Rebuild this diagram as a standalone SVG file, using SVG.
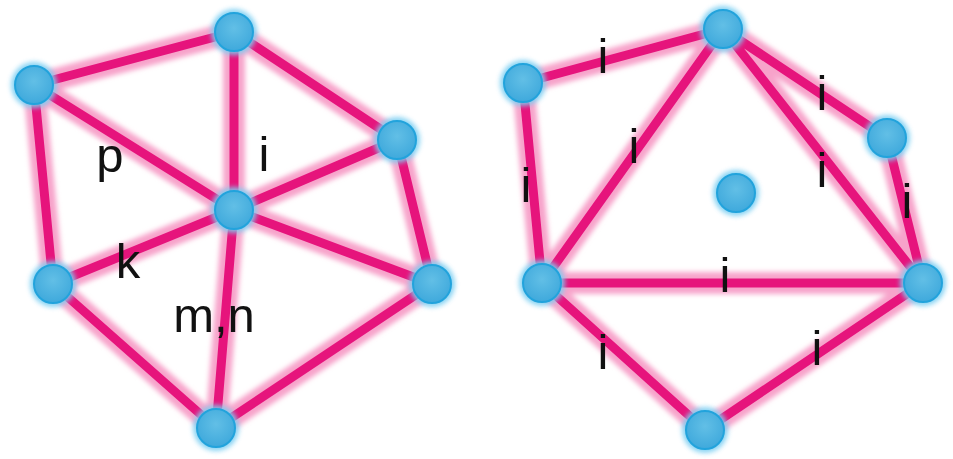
<svg xmlns="http://www.w3.org/2000/svg" width="953" height="459" viewBox="0 0 953 459">
<style>
.glow{stroke:#f7a3ca;stroke-width:22;stroke-linecap:round;fill:none}
.edge{stroke:#e6147c;stroke-width:9;stroke-linecap:round;fill:none}
.halo{fill:#7ccff2;opacity:0.9}
.node{fill:url(#ng);stroke:#22a3dc;stroke-width:2}
.lbl{font-family:"Liberation Sans",Arial,sans-serif;font-size:49px;fill:#111;text-anchor:middle}
</style>
<defs>
<filter id="blur" x="-20%" y="-20%" width="140%" height="140%"><feGaussianBlur stdDeviation="2.5"/></filter>
<filter id="nblur" x="-50%" y="-50%" width="200%" height="200%"><feGaussianBlur stdDeviation="2.5"/></filter>
<radialGradient id="ng" cx="50%" cy="40%" r="60%">
<stop offset="0" stop-color="#62bfe6"/>
<stop offset="1" stop-color="#3fa9dc"/>
</radialGradient>
</defs>
<rect width="953" height="459" fill="#ffffff"/>
<g id="connectors">
<g filter="url(#blur)">
<path class="glow" d="M234 32L34 85M234 32L397 140M234 32L234 210M34 85L234 210M34 85L53 284M397 140L234 210M397 140L432 284M234 210L53 284M234 210L432 284M234 210L216 428M53 284L216 428M432 284L216 428"/>
<path class="glow" d="M723 29L523 83M723 29L542 283M723 29L887 138M723 29L923 283M887 138L923 283M523 83L542 283M542 283L923 283M542 283L705 430M705 430L923 283"/>
</g>
<path class="edge" d="M234 32L34 85M234 32L397 140M234 32L234 210M34 85L234 210M34 85L53 284M397 140L234 210M397 140L432 284M234 210L53 284M234 210L432 284M234 210L216 428M53 284L216 428M432 284L216 428"/>
<path class="edge" d="M723 29L523 83M723 29L542 283M723 29L887 138M723 29L923 283M887 138L923 283M523 83L542 283M542 283L923 283M542 283L705 430M705 430L923 283"/>
</g>
<g id="labels">
<text class="lbl" x="110" y="172">p</text>
<text class="lbl" x="264" y="171">i</text>
<text class="lbl" x="128" y="278">k</text>
<text class="lbl" x="214" y="332">m,n</text>
<text class="lbl" x="603" y="73">i</text>
<text class="lbl" x="634" y="163">i</text>
<text class="lbl" x="822" y="110">i</text>
<text class="lbl" x="822" y="187">i</text>
<text class="lbl" x="907" y="218">i</text>
<text class="lbl" x="526" y="202">i</text>
<text class="lbl" x="725" y="292">i</text>
<text class="lbl" x="603" y="369">i</text>
<text class="lbl" x="817" y="365">i</text>
</g>
<g id="nA"><circle class="halo" cx="234" cy="32" r="23" filter="url(#nblur)"/><circle class="node" cx="234" cy="32" r="19"/></g>
<g id="nB"><circle class="halo" cx="34" cy="85" r="23" filter="url(#nblur)"/><circle class="node" cx="34" cy="85" r="19"/></g>
<g id="nC"><circle class="halo" cx="397" cy="140" r="23" filter="url(#nblur)"/><circle class="node" cx="397" cy="140" r="19"/></g>
<g id="nD"><circle class="halo" cx="234" cy="210" r="23" filter="url(#nblur)"/><circle class="node" cx="234" cy="210" r="19"/></g>
<g id="nE"><circle class="halo" cx="53" cy="284" r="23" filter="url(#nblur)"/><circle class="node" cx="53" cy="284" r="19"/></g>
<g id="nF"><circle class="halo" cx="432" cy="284" r="23" filter="url(#nblur)"/><circle class="node" cx="432" cy="284" r="19"/></g>
<g id="nG"><circle class="halo" cx="216" cy="428" r="23" filter="url(#nblur)"/><circle class="node" cx="216" cy="428" r="19"/></g>
<g id="nH"><circle class="halo" cx="723" cy="29" r="23" filter="url(#nblur)"/><circle class="node" cx="723" cy="29" r="19"/></g>
<g id="nI"><circle class="halo" cx="523" cy="83" r="23" filter="url(#nblur)"/><circle class="node" cx="523" cy="83" r="19"/></g>
<g id="nJ"><circle class="halo" cx="887" cy="138" r="23" filter="url(#nblur)"/><circle class="node" cx="887" cy="138" r="19"/></g>
<g id="nK"><circle class="halo" cx="736" cy="193" r="23" filter="url(#nblur)"/><circle class="node" cx="736" cy="193" r="19"/></g>
<g id="nL"><circle class="halo" cx="542" cy="283" r="23" filter="url(#nblur)"/><circle class="node" cx="542" cy="283" r="19"/></g>
<g id="nM"><circle class="halo" cx="923" cy="283" r="23" filter="url(#nblur)"/><circle class="node" cx="923" cy="283" r="19"/></g>
<g id="nN"><circle class="halo" cx="705" cy="430" r="23" filter="url(#nblur)"/><circle class="node" cx="705" cy="430" r="19"/></g>
</svg>
